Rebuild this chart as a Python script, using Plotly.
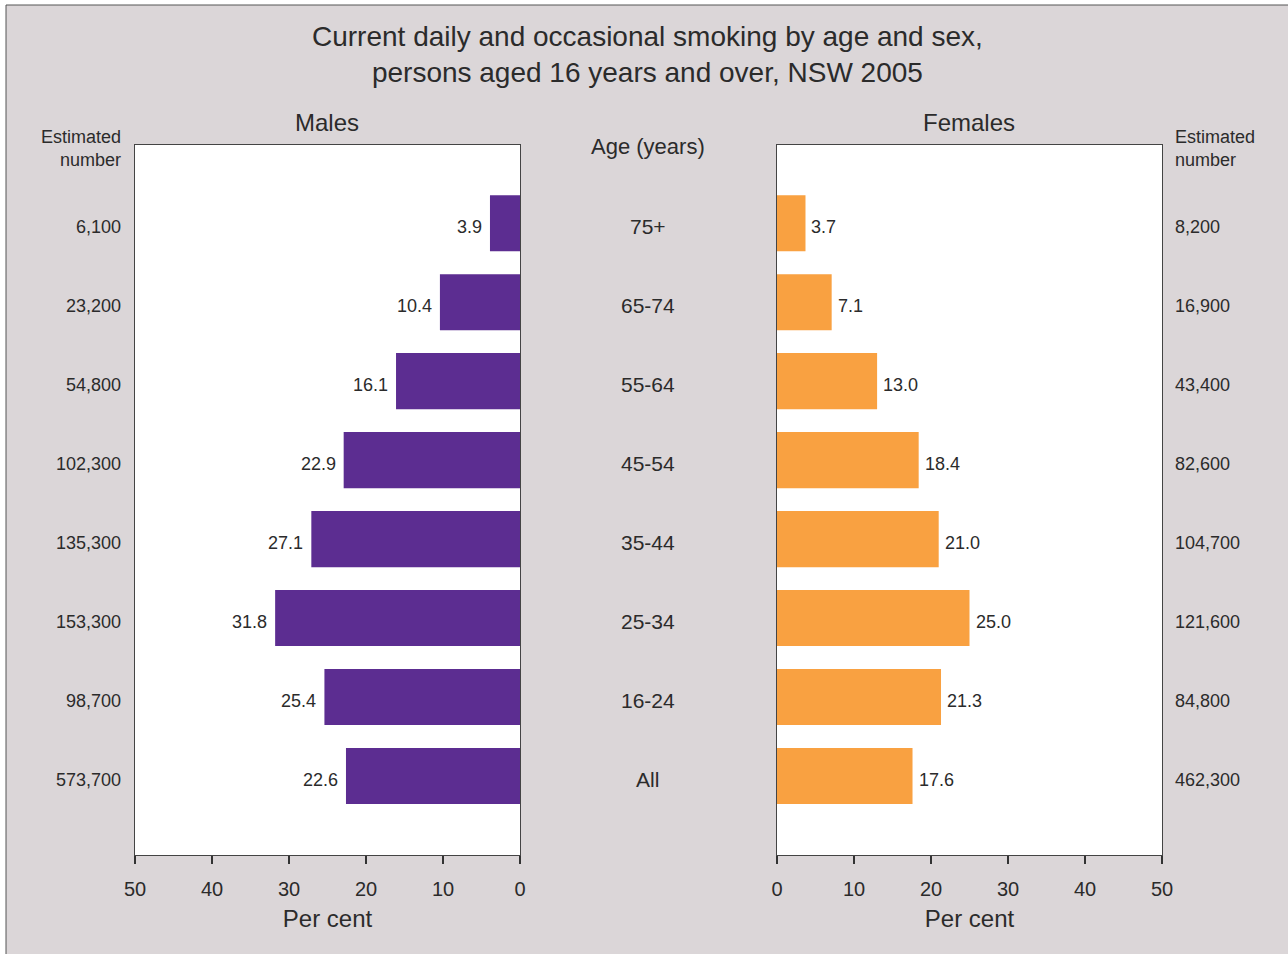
import plotly.graph_objects as go

# Age groups, top to bottom
age_groups = ["75+", "65-74", "55-64", "45-54", "35-44", "25-34", "16-24", "All"]

# Per cent currently smoking
males_pct = [3.9, 10.4, 16.1, 22.9, 27.1, 31.8, 25.4, 22.6]
females_pct = [3.7, 7.1, 13.0, 18.4, 21.0, 25.0, 21.3, 17.6]

# Estimated number of smokers
males_est = ["6,100", "23,200", "54,800", "102,300", "135,300", "153,300", "98,700", "573,700"]
females_est = ["8,200", "16,900", "43,400", "82,600", "104,700", "121,600", "84,800", "462,300"]

x_ticks = [0, 10, 20, 30, 40, 50]

W, H = 1288, 954
FONT = "Arial, Liberation Sans, sans-serif"
TXT = "#2b2b2b"
BG = "#dbd6d8"
PURPLE = "#5c2d91"
ORANGE = "#f9a141"
TEXT_SHIFT = -4  # row labels sit slightly below the bar centre


def px(x):
    return x / W


def py(y):
    return 1 - y / H


fig = go.Figure()

fig.add_trace(go.Bar(
    y=age_groups, x=males_pct, orientation="h", width=0.71,
    marker=dict(color=PURPLE, line=dict(width=0)),
    xaxis="x", yaxis="y", showlegend=False, hoverinfo="x+y",
))
fig.add_trace(go.Bar(
    y=age_groups, x=females_pct, orientation="h", width=0.71,
    marker=dict(color=ORANGE, line=dict(width=0)),
    xaxis="x2", yaxis="y2", showlegend=False, hoverinfo="x+y",
))

y_range = [len(age_groups) - 1 + 1.0, -0.99]
ydom = [py(855), py(145)]

xaxis_common = dict(
    tickvals=x_ticks, ticks="outside", ticklen=8, tickwidth=2, tickcolor="#333",
    showline=True, linecolor="#444", linewidth=1, mirror=True,
    showgrid=False, zeroline=False, ticklabelstandoff=8, automargin=False,
    tickfont=dict(family=FONT, size=20, color=TXT),
    title=dict(text="Per cent", font=dict(family=FONT, size=24, color=TXT), standoff=11),
    fixedrange=True,
)
yaxis_common = dict(
    range=y_range, domain=ydom, showticklabels=False, ticks="", automargin=False,
    showline=True, linecolor="#444", linewidth=1, mirror=True,
    showgrid=False, zeroline=False, fixedrange=True,
)

annotations = []
# Title
annotations.append(dict(
    text="Current daily and occasional smoking by age and sex,<br>persons aged 16 years and over, NSW 2005",
    x=px(648), y=py(55), xref="paper", yref="paper", showarrow=False,
    font=dict(family=FONT, size=28, color=TXT), xanchor="center", yanchor="middle",
))
# Panel headings
for label, xc in [("Males", 327), ("Females", 969)]:
    annotations.append(dict(text=label, x=px(xc), y=py(123), xref="paper", yref="paper",
                            showarrow=False, font=dict(family=FONT, size=24, color=TXT),
                            xanchor="center", yanchor="middle"))
annotations.append(dict(text="Age (years)", x=px(648), y=py(147), xref="paper", yref="paper",
                        showarrow=False, font=dict(family=FONT, size=22, color=TXT),
                        xanchor="center", yanchor="middle"))
annotations.append(dict(text="Estimated<br>number", x=px(123), y=py(148), xref="paper", yref="paper",
                        showarrow=False, align="right", font=dict(family=FONT, size=18, color=TXT),
                        xanchor="right", yanchor="middle"))
annotations.append(dict(text="Estimated<br>number", x=px(1173), y=py(148), xref="paper", yref="paper",
                        showarrow=False, align="left", font=dict(family=FONT, size=18, color=TXT),
                        xanchor="left", yanchor="middle"))

for i, age in enumerate(age_groups):
    annotations.append(dict(text=age, x=px(648), y=age, xref="paper", yref="y", showarrow=False,
                            yshift=TEXT_SHIFT + 1, font=dict(family=FONT, size=21, color=TXT),
                            xanchor="center", yanchor="middle"))
    annotations.append(dict(text=males_est[i], x=px(123), y=age, xref="paper", yref="y", showarrow=False,
                            yshift=TEXT_SHIFT, font=dict(family=FONT, size=18, color=TXT),
                            xanchor="right", yanchor="middle"))
    annotations.append(dict(text=females_est[i], x=px(1173), y=age, xref="paper", yref="y", showarrow=False,
                            yshift=TEXT_SHIFT, font=dict(family=FONT, size=18, color=TXT),
                            xanchor="left", yanchor="middle"))
    # value labels at the end of each bar
    annotations.append(dict(text=f"{males_pct[i]:.1f}", x=males_pct[i], y=age, xref="x", yref="y",
                            showarrow=False, xshift=-6, yshift=TEXT_SHIFT,
                            font=dict(family=FONT, size=18, color=TXT), xanchor="right", yanchor="middle"))
    annotations.append(dict(text=f"{females_pct[i]:.1f}", x=females_pct[i], y=age, xref="x2", yref="y2",
                            showarrow=False, xshift=4, yshift=TEXT_SHIFT,
                            font=dict(family=FONT, size=18, color=TXT), xanchor="left", yanchor="middle"))

shapes = [
    # white strips outside the panel border
    dict(type="rect", xref="paper", yref="paper", x0=0, x1=px(6), y0=0, y1=1,
         fillcolor="white", line=dict(width=0), layer="below"),
    dict(type="rect", xref="paper", yref="paper", x0=0, x1=1, y0=py(5), y1=1,
         fillcolor="white", line=dict(width=0), layer="below"),
    # panel border (left and top edges)
    dict(type="line", xref="paper", yref="paper", x0=px(6), x1=px(6), y0=0, y1=py(5),
         line=dict(color="#555", width=1)),
    dict(type="line", xref="paper", yref="paper", x0=px(6), x1=1, y0=py(5), y1=py(5),
         line=dict(color="#555", width=1)),
]

fig.update_layout(
    width=W, height=H, autosize=False,
    margin=dict(l=0, r=0, t=0, b=0, pad=0),
    paper_bgcolor=BG, plot_bgcolor="white",
    font=dict(family=FONT, color=TXT),
    barmode="overlay",
    xaxis=dict(domain=[px(135), px(520)], range=[50, 0], anchor="y", **xaxis_common),
    yaxis=dict(anchor="x", **yaxis_common),
    xaxis2=dict(domain=[px(777), px(1162)], range=[0, 50], anchor="y2", **xaxis_common),
    yaxis2=dict(anchor="x2", **yaxis_common),
    annotations=annotations,
    shapes=shapes,
)

fig.write_html(
    "out.html",
    config={"displayModeBar": False, "responsive": False},
    post_script="document.body.style.margin='0';document.body.style.overflow='hidden';",
)
